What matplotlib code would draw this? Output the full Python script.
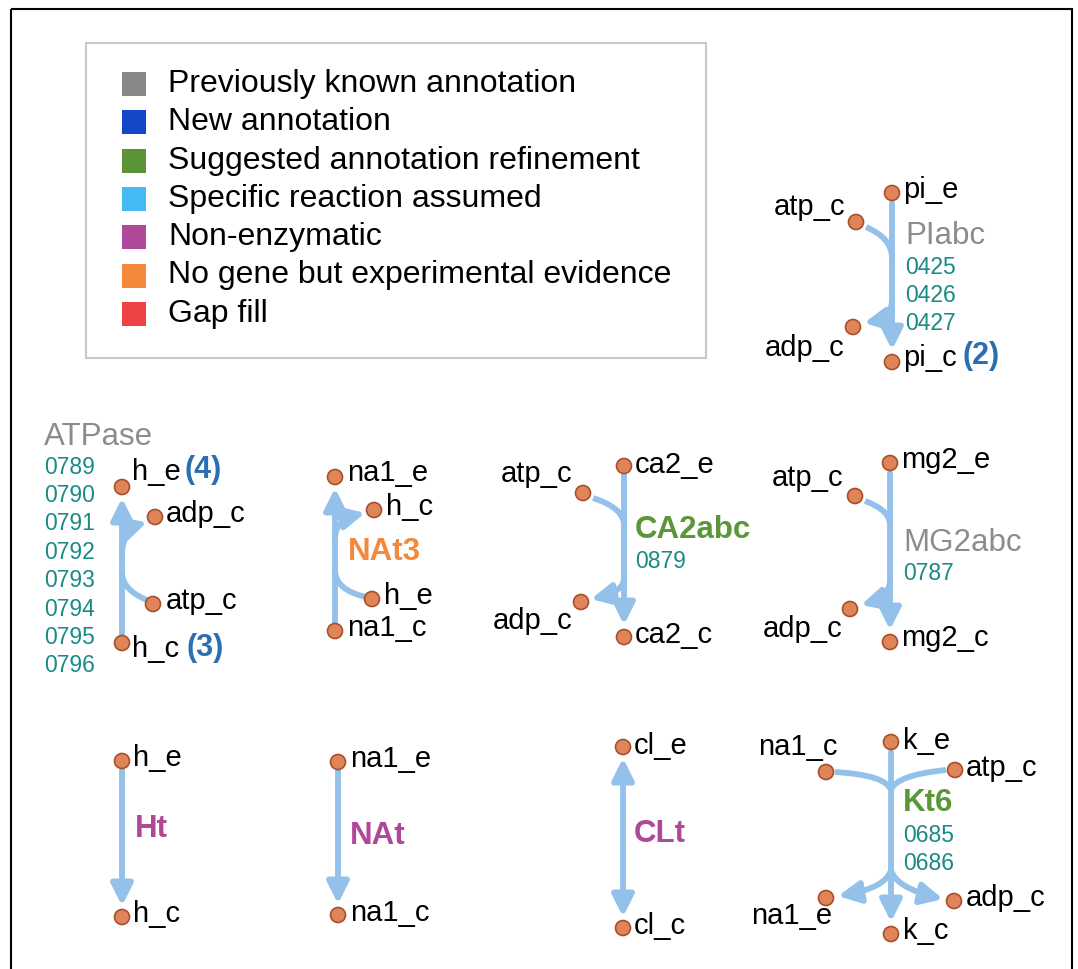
import matplotlib
matplotlib.use("Agg")
import matplotlib.pyplot as plt
from matplotlib.patches import Circle, Rectangle, FancyArrowPatch
from matplotlib.path import Path

plt.rcParams['font.family'] = ['Liberation Sans', 'DejaVu Sans']

# legend entries
legend_labels = ["Previously known annotation", "New annotation",
                 "Suggested annotation refinement", "Specific reaction assumed",
                 "Non-enzymatic", "No gene but experimental evidence", "Gap fill"]
legend_colors = ['#888888', '#1447c7', '#5b9338', '#45b9f1',
                 '#b0489a', '#f4893b', '#ee4346']

# metabolites: name, node x, node y, label x, label y, label alignment
metabolites = [
    # PIabc
    ("pi_e", 892, 193, 903, 190, 'left'),
    ("atp_c", 856, 222, 845, 207, 'right'),
    ("adp_c", 853, 327, 845, 348, 'right'),
    ("pi_c", 892, 362, 903, 358, 'left'),
    # ATPase
    ("h_e", 122, 487, 132, 472, 'left'),
    ("adp_c", 155, 517, 166, 514, 'left'),
    ("atp_c", 153, 604, 166, 601, 'left'),
    ("h_c", 122, 643, 132, 649, 'left'),
    # NAt3
    ("na1_e", 335, 477, 347, 473, 'left'),
    ("h_c", 374, 510, 386, 507, 'left'),
    ("h_e", 372, 599, 384, 596, 'left'),
    ("na1_c", 335, 631, 347, 628, 'left'),
    # CA2abc
    ("ca2_e", 624, 466, 635, 465, 'left'),
    ("atp_c", 583, 493, 572, 474, 'right'),
    ("adp_c", 581, 602, 572, 621, 'right'),
    ("ca2_c", 624, 637, 635, 635, 'left'),
    # MG2abc
    ("mg2_e", 890, 463, 901, 460, 'left'),
    ("atp_c", 855, 496, 843, 478, 'right'),
    ("adp_c", 850, 609, 843, 629, 'right'),
    ("mg2_c", 890, 642, 901, 638, 'left'),
    # Ht
    ("h_e", 122, 761, 133, 758, 'left'),
    ("h_c", 122, 917, 133, 914, 'left'),
    # NAt
    ("na1_e", 338, 762, 350, 759, 'left'),
    ("na1_c", 338, 915, 350, 913, 'left'),
    # CLt
    ("cl_e", 623, 747, 634, 746, 'left'),
    ("cl_c", 623, 928, 634, 926, 'left'),
    # Kt6
    ("k_e", 891, 742, 903, 741, 'left'),
    ("na1_c", 826, 772, 838, 747, 'right'),
    ("atp_c", 955, 770, 966, 768, 'left'),
    ("na1_e", 826, 898, 832, 916, 'right'),
    ("k_c", 891, 934, 903, 931, 'left'),
    ("adp_c", 954, 901, 966, 898, 'left'),
]

# reaction segments: list of points (2 = straight, 3 = quadratic curve), arrow style
segments = [
    # PIabc
    ([(892, 203), (892, 350)], '-|>'),
    ([(866, 227), (892, 238), (892, 258)], '-'),
    ([(892, 300), (892, 318), (864, 323)], '-|>'),
    # ATPase
    ([(122, 634), (122, 498)], '-|>'),
    ([(147, 600), (122, 590), (122, 572)], '-'),
    ([(122, 556), (122, 530), (147, 522)], '-|>'),
    # NAt3
    ([(335, 622), (335, 488)], '-|>'),
    ([(366, 597), (335, 590), (335, 570)], '-'),
    ([(335, 538), (335, 520), (365, 513)], '-|>'),
    # CA2abc
    ([(624, 475), (624, 625)], '-|>'),
    ([(593, 498), (624, 508), (624, 525)], '-'),
    ([(624, 578), (624, 592), (591, 599)], '-|>'),
    # MG2abc
    ([(890, 473), (890, 630)], '-|>'),
    ([(865, 501), (890, 510), (890, 525)], '-'),
    ([(890, 580), (890, 597), (861, 605)], '-|>'),
    # Ht, NAt, CLt
    ([(122, 770), (122, 906)], '-|>'),
    ([(338, 771), (338, 904)], '-|>'),
    ([(623, 758), (623, 917)], '<|-|>'),
    # Kt6
    ([(891, 752), (891, 922)], '-|>'),
    ([(835, 772), (886, 775), (891, 790)], '-'),
    ([(946, 770), (896, 775), (891, 790)], '-'),
    ([(891, 870), (886, 888), (838, 896)], '-|>'),
    ([(891, 870), (896, 888), (943, 899)], '-|>'),
]

# reaction names: text, x, y, color, bold
reactions = [
    ("PIabc", 905, 236, '#8c8c8c', False),
    ("ATPase", 44, 437, '#8c8c8c', False),
    ("NAt3", 348, 552, '#f3893d', True),
    ("CA2abc", 635, 530, '#5b9639', True),
    ("MG2abc", 903, 543, '#8c8c8c', False),
    ("Ht", 135, 829, '#b0489a', True),
    ("NAt", 350, 836, '#b0489a', True),
    ("CLt", 634, 834, '#b0489a', True),
    ("Kt6", 903, 803, '#5b9639', True),
]

# gene ids under each reaction: x, first y, step, ids
genes = [
    (905, 267, 28.0, ["0425", "0426", "0427"]),
    (44, 467, 28.4, ["0789", "0790", "0791", "0792", "0793", "0794", "0795", "0796"]),
    (635, 561, 28.0, ["0879"]),
    (903, 573, 28.0, ["0787"]),
    (903, 836, 28.0, ["0685", "0686"]),
]

# copy-number labels
counts = [("(2)", 962, 356), ("(4)", 185, 470), ("(3)", 186, 648)]

line_color = '#93c1e9'
node_face = '#e0845a'
node_edge = '#a8502a'
gene_color = '#1a8a85'
count_color = '#2b6fb3'

fig = plt.figure(figsize=(10.78, 9.69), dpi=100)
ax = fig.add_axes([0, 0, 1, 1])
ax.set_xlim(0, 1078)
ax.set_ylim(969, 0)
ax.axis('off')

# outer frame and legend box
ax.add_patch(Rectangle((11, 9), 1061, 966, fill=False, edgecolor='black', lw=1.5))
ax.add_patch(Rectangle((86, 43), 620, 315, fill=False, edgecolor='#c8c8c8', lw=1.5))

for i, (lab, col) in enumerate(zip(legend_labels, legend_colors)):
    y = 84 + i * 38.3
    ax.add_patch(Rectangle((122, y - 12), 24, 24, facecolor=col, edgecolor='none'))
    ax.text(168, y, lab, fontsize=23, va='center', ha='left', color='black')

# reaction lines
for pts, style in segments:
    if len(pts) == 2:
        path = Path(pts, [Path.MOVETO, Path.LINETO])
    else:
        path = Path(pts, [Path.MOVETO, Path.CURVE3, Path.CURVE3])
    if style == '-':
        arr = FancyArrowPatch(path=path, arrowstyle='-', color=line_color,
                              lw=4.2, capstyle='butt', zorder=2)
    else:
        arr = FancyArrowPatch(path=path, arrowstyle=style + ',head_length=1.3,head_width=0.65',
                              mutation_scale=10, color=line_color, lw=4.2, zorder=2)
    ax.add_patch(arr)

# metabolite nodes and labels
for name, nx, ny, lx, ly, ha in metabolites:
    ax.add_patch(Circle((nx, ny), 7.5, facecolor=node_face, edgecolor=node_edge,
                        lw=1.2, zorder=3))
    ax.text(lx, ly, name, fontsize=21, ha=ha, va='center', color='black', zorder=4)

for txt, x, y, col, bold in reactions:
    ax.text(x, y, txt, fontsize=22.5, ha='left', va='center', color=col,
            fontweight='bold' if bold else 'normal', zorder=4)

for x, y0, step, ids in genes:
    for k, g in enumerate(ids):
        ax.text(x, y0 + k * step, g, fontsize=16.5, ha='left', va='center',
                color=gene_color, zorder=4)

for txt, x, y in counts:
    ax.text(x, y, txt, fontsize=22, ha='left', va='center', color=count_color,
            fontweight='bold', zorder=4)

fig.savefig('out.png', dpi=100)
